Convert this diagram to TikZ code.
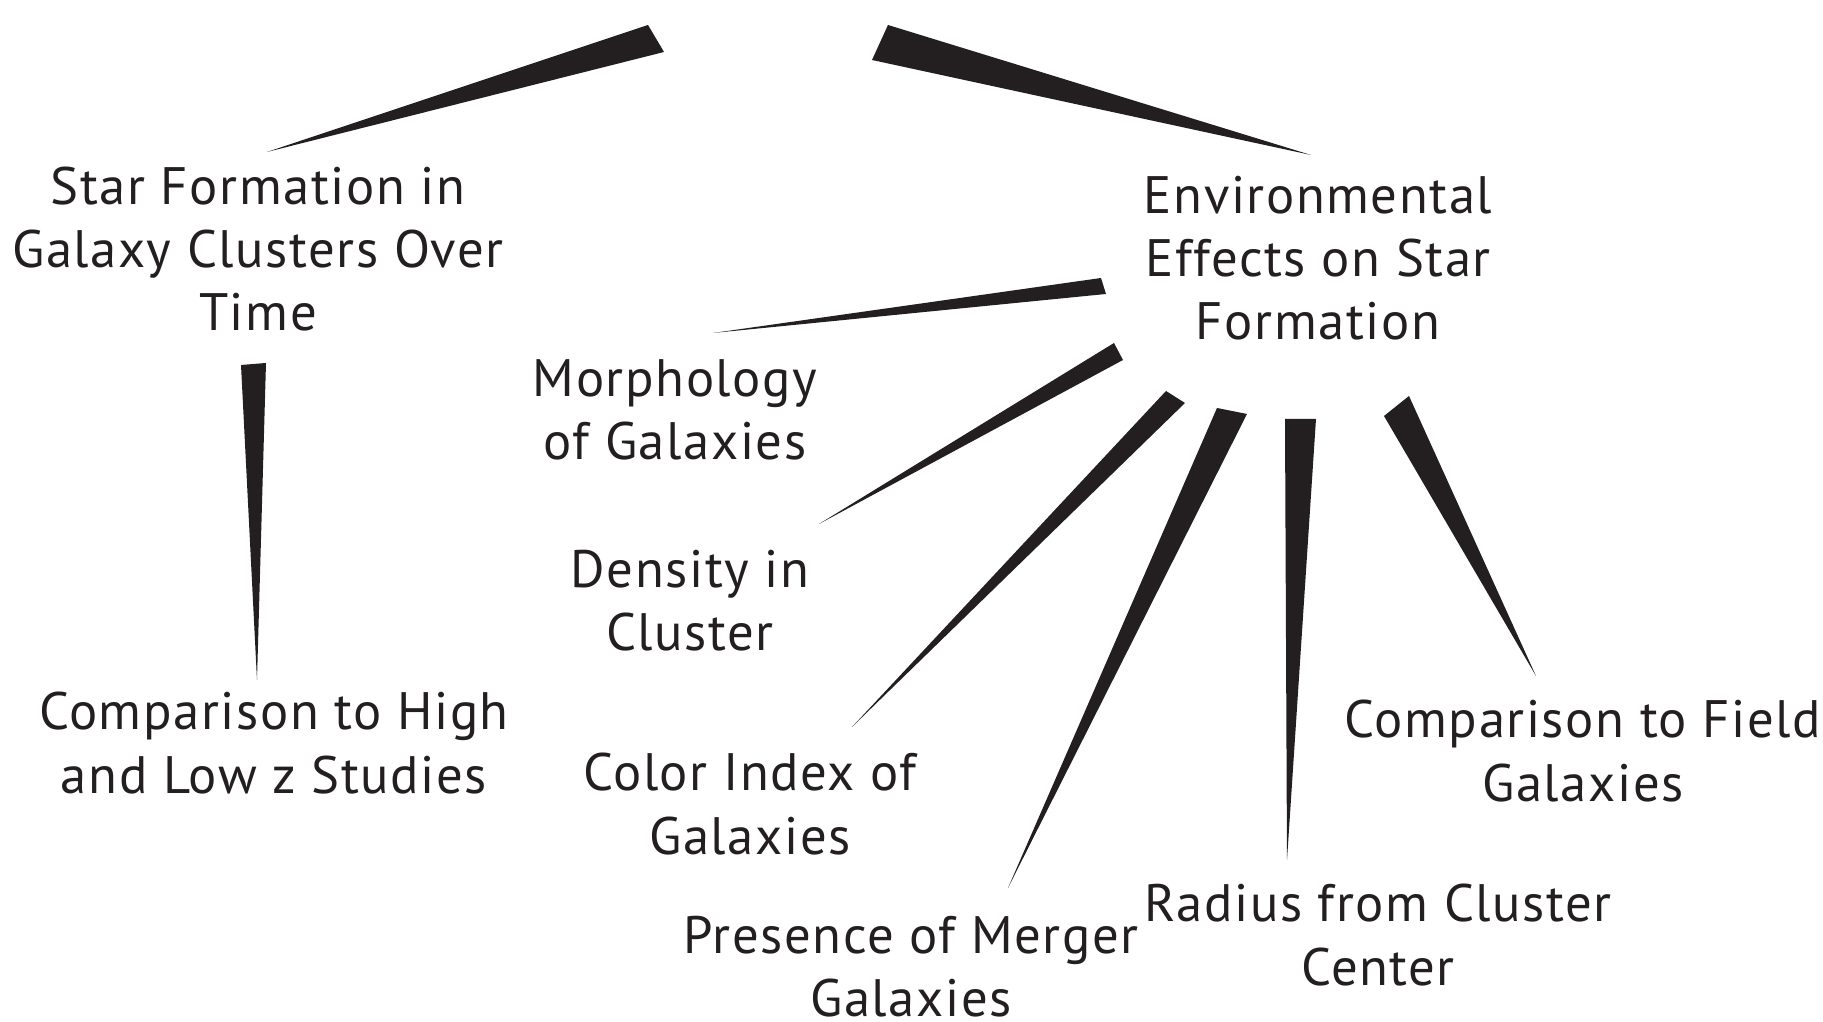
\documentclass[tikz,border=0pt]{standalone}
\usepackage{fontspec}
\setmainfont[LetterSpace=3]{PT Sans}
\definecolor{inkblack}{RGB}{35,31,32}
\tikzset{
	topic/.style={font=\fontsize{15}{18}\selectfont, align=center, text=inkblack, inner sep=0pt},
	spoke/.style={fill=inkblack, draw=none}
}
\begin{document}
\begin{tikzpicture}
	\useasboundingbox (0,0) rectangle (18.23,10.22);

	\node[topic] (starform) at (2.58,7.73) {Star Formation in\\Galaxy Clusters Over\\Time};
	\node[topic] (enveff) at (13.18,7.64) {Environmental\\Effects on Star\\Formation};
	\node[topic] (morph) at (6.75,6.12) {Morphology\\of Galaxies};
	\node[topic] (density) at (6.90,4.21) {Density in\\Cluster};
	\node[topic] (colorind) at (7.50,2.18) {Color Index of\\Galaxies};
	\node[topic] (merger) at (9.11,0.55) {Presence of Merger\\Galaxies};
	\node[topic] (radius) at (13.78,0.87) {Radius from Cluster\\Center};
	\node[topic] (field) at (15.83,2.71) {Comparison to Field\\Galaxies};
	\node[topic] (highlow) at (2.74,2.79) {Comparison to High\\and Low z Studies};

	\coordinate (topL) at (6.48,9.97);
	\coordinate (topLb) at (6.64,9.70);
	\coordinate (topR) at (8.88,9.97);
	\coordinate (topRb) at (8.72,9.62);

	\fill[spoke] (2.67,8.70) -- (topL) -- (topLb) -- cycle;
	\fill[spoke] (13.11,8.67) -- (topR) -- (topRb) -- cycle;

	\fill[spoke] (2.41,6.57) -- (2.66,6.59) -- (2.57,3.42) -- cycle;

	\fill[spoke] (11.01,7.44) -- (11.06,7.28) -- (7.13,6.89) -- cycle;
	\fill[spoke] (11.14,6.79) -- (11.23,6.62) -- (8.19,4.98) -- cycle;
	\fill[spoke] (11.66,6.31) -- (11.85,6.19) -- (8.52,2.95) -- cycle;
	\fill[spoke] (12.17,6.14) -- (12.47,6.08) -- (10.08,1.34) -- cycle;
	\fill[spoke] (12.85,6.03) -- (13.16,6.03) -- (12.87,1.62) -- cycle;
	\fill[spoke] (13.84,6.06) -- (14.09,6.26) -- (15.36,3.46) -- cycle;
\end{tikzpicture}
\end{document}
